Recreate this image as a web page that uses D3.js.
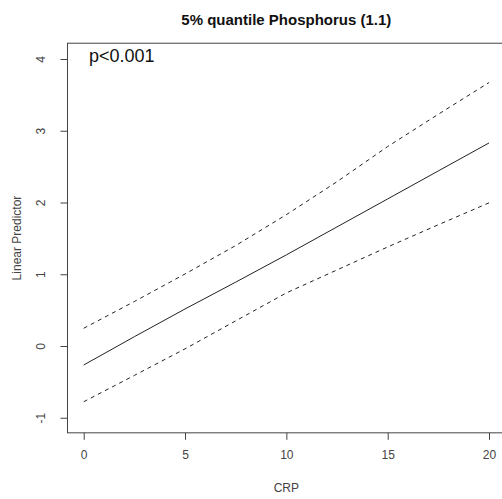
<!DOCTYPE html>
<html>
<head>
<meta charset="utf-8">
<script src="https://cdn.jsdelivr.net/npm/d3@7"></script>
<style>
  html, body { margin: 0; padding: 0; background: #fff; }
  svg { display: block; font-family: "Liberation Sans", Arial, sans-serif; }
</style>
</head>
<body>
<svg id="chart" width="502" height="499"></svg>
<script>
// Fitted effect of CRP on the linear predictor, with pointwise confidence band
const crp      = [0, 2.5, 5, 7.5, 10, 12.5, 15, 17.5, 20];
const estimate = [-0.265, 0.13, 0.516, 0.89, 1.27, 1.66, 2.05, 2.44, 2.83];
const upper    = [0.247, 0.62, 1.004, 1.40, 1.83, 2.29, 2.78, 3.23, 3.672];
const lower    = [-0.777, -0.41, -0.04, 0.35, 0.74, 1.06, 1.38, 1.69, 1.995];

const xTicks = [0, 5, 10, 15, 20];
const yTicks = [-1, 0, 1, 2, 3, 4];

const title = "5% quantile Phosphorus (1.1)";
const xLabel = "CRP";
const yLabel = "Linear Predictor";
const pLabel = "p<0.001";

const svg = d3.select("#chart");

const x = d3.scaleLinear().domain([0, 20]).range([83.7, 489]);
const y = d3.scaleLinear().domain([0, 4]).range([346, 59]);

// plot region (data range padded by 4% on each side)
const x0 = x(-0.8), x1 = x(20.8);
const y0 = y(-1.21), y1 = y(4.22);

const line = d3.line().x((d, i) => x(crp[i])).y(d => y(d));

const g = svg.append("g");

[[upper, "4,4"], [lower, "4,4"], [estimate, null]].forEach(([vals, dash]) => {
  g.append("path")
    .attr("d", line(vals))
    .attr("fill", "none")
    .attr("stroke", "#222")
    .attr("stroke-width", 1)
    .attr("stroke-dasharray", dash);
});

// box
svg.append("rect")
  .attr("x", x0).attr("y", y1)
  .attr("width", x1 - x0).attr("height", y0 - y1)
  .attr("fill", "none").attr("stroke", "#444").attr("stroke-width", 1);

const plain = d => String(d);

// x axis
const xAxis = d3.axisBottom(x).tickValues(xTicks).tickFormat(plain)
  .tickSize(7).tickPadding(11).tickSizeOuter(0);
const gx = svg.append("g").attr("transform", `translate(0,${y0})`).call(xAxis);
gx.select(".domain").remove();
gx.selectAll("line").attr("stroke", "#444");
gx.selectAll("text").attr("font-size", 12).attr("fill", "#444")
  .attr("font-family", "Liberation Sans, Arial, sans-serif");

// y axis, labels rotated parallel to the axis
const yAxis = d3.axisLeft(y).tickValues(yTicks).tickFormat(plain)
  .tickSize(7).tickSizeOuter(0);
const gy = svg.append("g").attr("transform", `translate(${x0},0)`).call(yAxis);
gy.select(".domain").remove();
gy.selectAll("line").attr("stroke", "#444");
gy.selectAll("text")
  .attr("font-size", 12).attr("fill", "#444")
  .attr("font-family", "Liberation Sans, Arial, sans-serif")
  .attr("x", null)
  .attr("text-anchor", "middle")
  .attr("transform", "translate(-27,0) rotate(-90)")
  .attr("dy", "0.35em");

// titles
svg.append("text")
  .attr("x", (x0 + x1) / 2).attr("y", 25)
  .attr("text-anchor", "middle")
  .attr("font-size", 15).attr("font-weight", "bold").attr("fill", "#111")
  .text(title);

svg.append("text")
  .attr("x", x(10)).attr("y", 492)
  .attr("text-anchor", "middle")
  .attr("font-size", 12).attr("fill", "#444")
  .text(xLabel);

svg.append("text")
  .attr("transform", `translate(21,${(y0 + y1) / 2}) rotate(-90)`)
  .attr("text-anchor", "middle")
  .attr("font-size", 12).attr("fill", "#444")
  .text(yLabel);

svg.append("text")
  .attr("x", 89).attr("y", 62)
  .attr("font-size", 18).attr("fill", "#111")
  .text(pLabel);
</script>
</body>
</html>
